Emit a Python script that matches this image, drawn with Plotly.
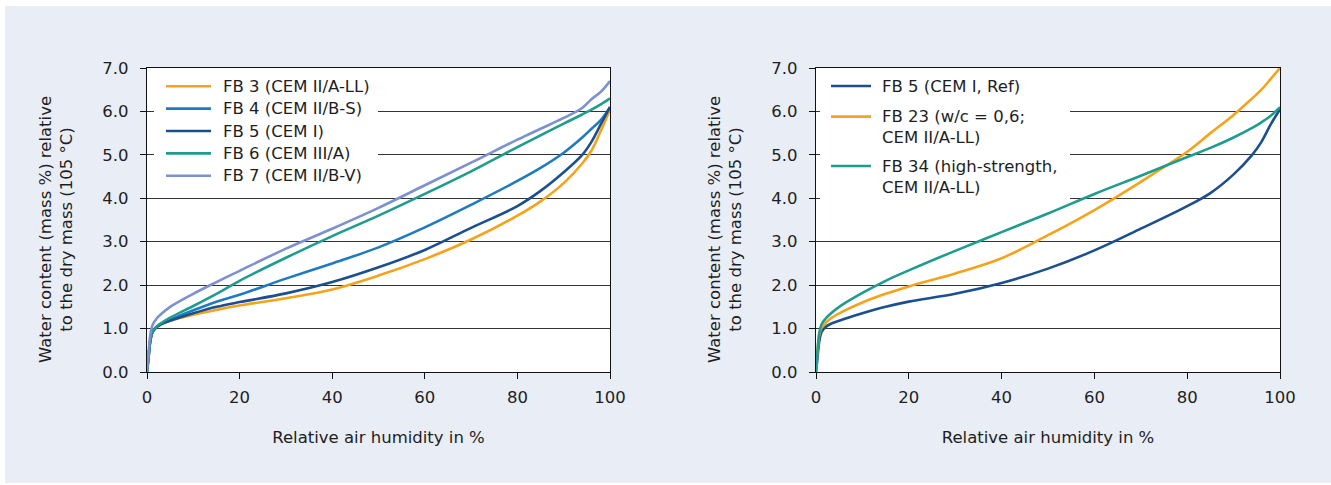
import plotly.graph_objects as go

# ---- data ----
rh = [0, 0.3, 0.7, 1.2, 2, 3, 5, 10, 15, 20, 30, 40, 50, 60, 70, 80, 85, 90, 94, 96, 98, 100]

fb3_cem_ii_a_ll = [0, 0.30, 0.70, 0.92, 1.03, 1.10, 1.18, 1.32, 1.43, 1.53, 1.70, 1.90, 2.22, 2.60, 3.05, 3.60, 3.93, 4.35, 4.80, 5.10, 5.55, 6.05]
fb4_cem_ii_b_s  = [0, 0.30, 0.70, 0.92, 1.03, 1.10, 1.20, 1.42, 1.62, 1.78, 2.15, 2.50, 2.87, 3.33, 3.85, 4.40, 4.70, 5.05, 5.40, 5.60, 5.80, 6.10]
fb5_cem_i       = [0, 0.30, 0.70, 0.92, 1.03, 1.10, 1.18, 1.35, 1.50, 1.61, 1.81, 2.07, 2.41, 2.81, 3.32, 3.82, 4.17, 4.60, 5.00, 5.30, 5.70, 6.10]
fb6_cem_iii_a   = [0, 0.30, 0.72, 0.93, 1.04, 1.12, 1.25, 1.52, 1.80, 2.10, 2.63, 3.13, 3.60, 4.10, 4.62, 5.18, 5.45, 5.72, 5.93, 6.04, 6.16, 6.30]
fb7_cem_ii_b_v  = [0, 0.40, 0.85, 1.08, 1.22, 1.33, 1.50, 1.80, 2.07, 2.33, 2.84, 3.30, 3.78, 4.30, 4.82, 5.35, 5.60, 5.85, 6.08, 6.28, 6.45, 6.70]

fb5_ref         = [0, 0.30, 0.70, 0.92, 1.03, 1.10, 1.18, 1.35, 1.50, 1.62, 1.80, 2.05, 2.38, 2.80, 3.30, 3.82, 4.12, 4.55, 5.00, 5.30, 5.70, 6.05]
fb23_wc06       = [0, 0.45, 0.85, 1.02, 1.12, 1.22, 1.35, 1.60, 1.80, 1.97, 2.27, 2.62, 3.15, 3.73, 4.38, 5.07, 5.50, 5.92, 6.30, 6.50, 6.75, 7.00]
fb34_high       = [0, 0.45, 0.90, 1.10, 1.22, 1.33, 1.50, 1.82, 2.10, 2.34, 2.79, 3.22, 3.65, 4.10, 4.52, 4.95, 5.16, 5.40, 5.62, 5.75, 5.90, 6.10]

left_names = ["FB 3 (CEM II/A-LL)", "FB 4 (CEM II/B-S)", "FB 5 (CEM I)", "FB 6 (CEM III/A)", "FB 7 (CEM II/B-V)"]
right_names = ["FB 5 (CEM I, Ref)", "FB 23 (w/c = 0,6;<br>CEM II/A-LL)", "FB 34 (high-strength,<br>CEM II/A-LL)"]

y_ticks = [0, 1, 2, 3, 4, 5, 6, 7]
x_ticks = [0, 20, 40, 60, 80, 100]

x_title = "Relative air humidity in %"
y_title = "Water content (mass %) relative<br>to the dry mass (105 °C)"

ORANGE = "#f6a31c"
MBLUE = "#1f7bbf"
DBLUE = "#1b4f8f"
TEAL = "#1e9c8e"
LAV = "#7c91cd"
TXT = "#1e1e1e"

FONT = "DejaVu Sans"
FS = 16.5

W, H = 1331, 485
ML, MR, MT, MB = 147, 51, 68, 113
PW = W - ML - MR
PH = H - MT - MB


def px(xpix):
    return (xpix - ML) / PW


def py(ypix):
    return 1 - (ypix - MT) / PH


fig = go.Figure()

left_series = [fb3_cem_ii_a_ll, fb4_cem_ii_b_s, fb5_cem_i, fb6_cem_iii_a, fb7_cem_ii_b_v]
left_colors = [ORANGE, MBLUE, DBLUE, TEAL, LAV]
for name, ys, col in zip(left_names, left_series, left_colors):
    fig.add_trace(go.Scatter(x=rh, y=ys, name=name, mode="lines", showlegend=False,
                             line=dict(color=col, width=2.6, shape="spline", smoothing=1.0),
                             xaxis="x", yaxis="y"))

right_series = [fb5_ref, fb23_wc06, fb34_high]
right_colors = [DBLUE, ORANGE, TEAL]
for name, ys, col in zip(right_names, right_series, right_colors):
    fig.add_trace(go.Scatter(x=rh, y=ys, name=name, mode="lines", showlegend=False,
                             line=dict(color=col, width=2.6, shape="spline", smoothing=1.0),
                             xaxis="x2", yaxis="y2"))

axis_common = dict(
    showline=True, linecolor="#111", linewidth=1.2, mirror=True,
    ticks="outside", ticklen=6, tickcolor="#111", tickwidth=1.2,
    tickfont=dict(family=FONT, size=FS, color=TXT),
    zeroline=False,
)

xa = dict(axis_common, range=[0, 100], tickvals=x_ticks, showgrid=False, ticklabelstandoff=4,
          title=dict(text=x_title, font=dict(family=FONT, size=FS, color=TXT), standoff=25))
ya = dict(axis_common, range=[0, 7], tickvals=y_ticks, tickformat=".1f", ticklabelstandoff=8,
          showgrid=True, gridcolor="#333", gridwidth=1)

shapes = [
    dict(type="rect", xref="paper", yref="paper", x0=px(0), x1=px(5), y0=py(H), y1=py(0),
         fillcolor="white", line=dict(width=0), layer="below"),
    dict(type="rect", xref="paper", yref="paper", x0=px(0), x1=px(W), y0=py(6), y1=py(0),
         fillcolor="white", line=dict(width=0), layer="below"),
    dict(type="rect", xref="paper", yref="paper", x0=px(0), x1=px(W), y0=py(H), y1=py(483),
         fillcolor="white", line=dict(width=0), layer="below"),
    # legend backgrounds
    dict(type="rect", xref="paper", yref="paper", x0=px(154), x1=px(378), y0=py(190), y1=py(73),
         fillcolor="white", line=dict(width=0), layer="above"),
    dict(type="rect", xref="paper", yref="paper", x0=px(820), x1=px(1070), y0=py(202), y1=py(73),
         fillcolor="white", line=dict(width=0), layer="above"),
]
annotations = []

# y-axis titles (two lines, rotated)
for xc in (56, 725):
    annotations.append(dict(text=y_title, xref="paper", yref="paper", x=px(xc), y=py(230),
                            xanchor="center", yanchor="middle", textangle=-90, showarrow=False,
                            align="center", font=dict(family=FONT, size=FS, color=TXT)))

# left legend
left_rows = [86.2, 108.6, 131.0, 153.4, 175.8]
for name, col, yrow in zip(left_names, left_colors, left_rows):
    shapes.append(dict(type="line", xref="paper", yref="paper", x0=px(166), x1=px(211),
                       y0=py(yrow), y1=py(yrow), line=dict(color=col, width=2.6), layer="above"))
    annotations.append(dict(text=name, xref="paper", yref="paper", x=px(221), y=py(yrow),
                            xanchor="left", yanchor="middle", showarrow=False, align="left",
                            font=dict(family=FONT, size=FS, color=TXT)))

# right legend
right_rows = [86.0, 116.6, 166.0]
for name, col, yrow in zip(right_names, right_colors, right_rows):
    shapes.append(dict(type="line", xref="paper", yref="paper", x0=px(831), x1=px(871),
                       y0=py(yrow), y1=py(yrow), line=dict(color=col, width=2.6), layer="above"))
    annotations.append(dict(text=name, xref="paper", yref="paper", x=px(880), y=py(yrow - 11.5 if "<br>" in name else yrow),
                            xanchor="left", yanchor="top" if "<br>" in name else "middle",
                            showarrow=False, align="left",
                            font=dict(family=FONT, size=FS, color=TXT)))

fig.update_layout(
    width=W, height=H,
    margin=dict(l=ML, r=MR, t=MT, b=MB),
    paper_bgcolor="#e8edf6",
    plot_bgcolor="white",
    xaxis=dict(xa, domain=[0, px(610)], anchor="y"),
    yaxis=dict(ya, domain=[0, 1], anchor="x"),
    xaxis2=dict(xa, domain=[px(816), 1], anchor="y2"),
    yaxis2=dict(ya, domain=[0, 1], anchor="x2"),
    showlegend=False,
    shapes=shapes,
    annotations=annotations,
)

fig.write_html("out.html")
